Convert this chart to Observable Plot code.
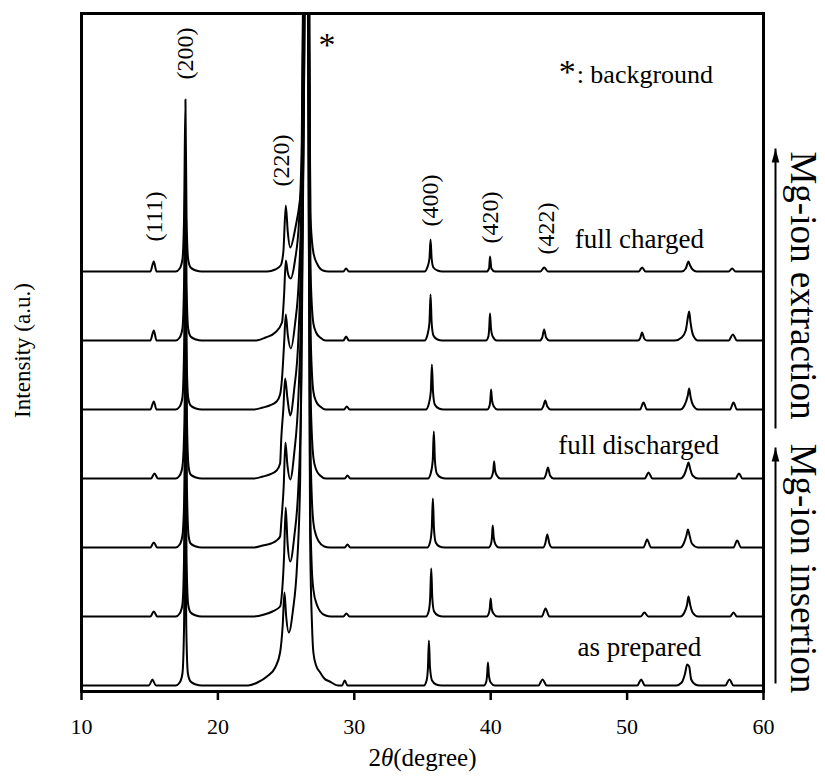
<!DOCTYPE html>
<html><head><meta charset="utf-8">
<script src="https://cdn.jsdelivr.net/npm/d3@7"></script>
<script src="https://cdn.jsdelivr.net/npm/@observablehq/plot@0.6"></script>
<style>
body{margin:0;background:#fff;}
#chart svg{display:block;}
</style></head><body><div id="chart"></div>
<script>
// ---- data: XRD patterns (2θ in degrees, intensity a.u. above each trace baseline) ----
const traceNames = ["as prepared", "insertion 1", "insertion 2", "full discharged", "extraction 1", "extraction 2", "full charged"];
const traceOffsets = [0, 69, 138, 207, 276, 345, 414];

const asPrepared = [[10,0],[14.95,0],[15.2,6],[15.45,0],
 [16.9,0],[17.2,3],[17.4,12],[17.52,60],[17.6,200],[17.68,60],[17.8,12],[18.0,4],[18.4,1],[18.8,0],
 [22.2,0],[22.9,3],[23.6,9],[24.2,18],[24.56,33],[24.75,60],[24.88,93],[25.0,70],[25.2,53],[25.5,75],[25.8,120],[26.03,206],[26.3,600],[26.47,3000],[26.62,600],[26.76,150],[26.9,60],[27.0,33],[27.2,20],[27.5,13],[27.8,7],[28.2,4],[28.8,0],
 [29.1,0],[29.3,5],[29.5,0],
 [35.1,0],[35.3,5],[35.4,18],[35.47,45],[35.55,18],[35.7,5],[36.0,1],[36.4,0],
 [39.5,0],[39.68,4],[39.74,11],[39.8,23],[39.87,10],[40.0,3],[40.3,0],
 [43.5,0],[43.8,6],[44.1,0],
 [50.75,0],[51.03,6],[51.3,0],
 [53.6,0],[54.0,3],[54.25,12],[54.4,21],[54.55,19],[54.7,6],[55.0,1],[55.3,0],
 [57.2,0],[57.5,6],[57.8,0],[60,0]];

const insertion1 = [[10,0],[15.05,0],[15.3,5],[15.55,0],
 [16.9,0],[17.2,3],[17.4,12],[17.52,60],[17.62,200],[17.7,60],[17.82,12],[18.0,4],[18.4,1],[18.8,0],
 [22.6,0],[23.4,2],[24.0,5],[24.56,10],[24.7,24],[24.85,60],[24.97,109],[25.1,75],[25.3,55],[25.6,80],[25.9,130],[26.1,215],[26.36,600],[26.5,3000],[26.6,600],[26.76,120],[26.88,50],[27.0,27],[27.25,12],[27.5,5],[27.9,1],[28.3,0],
 [29.2,0],[29.42,3],[29.65,0],
 [35.25,0],[35.45,5],[35.56,18],[35.64,48],[35.72,18],[35.85,5],[36.15,1],[36.5,0],
 [39.7,0],[39.88,4],[39.94,9],[40.0,18],[40.07,8],[40.2,3],[40.5,0],
 [43.75,0],[44.02,8],[44.3,0],
 [51.0,0],[51.27,4],[51.55,0],
 [53.9,0],[54.2,4],[54.4,12],[54.5,20],[54.62,12],[54.8,4],[55.2,0],
 [57.55,0],[57.8,4],[58.05,0],[60,0]];

const insertion2 = [[10,0],[15.05,0],[15.3,5],[15.55,0],
 [16.9,0],[17.2,3],[17.4,12],[17.55,60],[17.65,200],[17.73,60],[17.85,12],[18.0,4],[18.4,1],[18.8,0],
 [22.6,0],[23.3,2],[23.9,4],[24.3,7],[24.56,11],[24.66,28],[24.82,60],[24.95,105],[25.1,82],[25.3,68],[25.6,95],[25.9,150],[26.1,240],[26.38,600],[26.52,3000],[26.62,600],[26.78,110],[26.9,45],[27.0,25],[27.2,12],[27.4,6],[27.8,1],[28.2,0],
 [29.3,0],[29.5,3],[29.7,0],
 [35.35,0],[35.55,5],[35.68,19],[35.76,49],[35.84,19],[35.97,5],[36.25,1],[36.6,0],
 [39.85,0],[40.03,4],[40.09,10],[40.15,22],[40.22,10],[40.35,3],[40.6,0],
 [43.85,0],[44.0,4],[44.15,13],[44.3,4],[44.5,0],
 [51.2,0],[51.47,8],[51.75,0],
 [53.9,0],[54.15,4],[54.35,12],[54.46,18],[54.58,12],[54.75,4],[55.2,0],
 [57.8,0],[58.07,7],[58.35,0],[60,0]];

const fullDischarged = [[10,0],[15.1,0],[15.35,5],[15.6,0],
 [16.9,0],[17.2,3],[17.4,12],[17.55,60],[17.65,200],[17.73,60],[17.85,12],[18.0,4],[18.4,1],[18.8,0],
 [22.6,0],[23.3,2],[23.8,4],[24.3,8],[24.56,15],[24.65,41],[24.8,70],[24.93,100],[25.1,80],[25.3,63],[25.6,90],[25.9,140],[26.1,230],[26.38,600],[26.53,3000],[26.63,600],[26.78,100],[26.9,40],[27.0,21],[27.2,9],[27.5,3],[27.9,0],
 [29.3,0],[29.5,3],[29.7,0],
 [35.4,0],[35.6,5],[35.75,18],[35.83,47],[35.91,18],[36.05,5],[36.35,1],[36.7,0],
 [39.95,0],[40.13,4],[40.19,8],[40.25,17],[40.32,8],[40.45,3],[40.7,0],
 [43.9,0],[44.05,4],[44.2,11],[44.35,3],[44.6,0],
 [51.3,0],[51.57,6],[51.85,0],
 [53.9,0],[54.2,4],[54.4,12],[54.5,16],[54.62,10],[54.8,3],[55.2,0],
 [57.95,0],[58.2,5],[58.45,0],[60,0]];

const extraction1 = [[10,0],[15.05,0],[15.3,8],[15.5,0],
 [16.9,0],[17.2,3],[17.4,12],[17.52,60],[17.62,190],[17.7,60],[17.82,12],[18.0,4],[18.4,1],[18.8,0],
 [22.6,0],[23.3,2],[23.8,4],[24.3,8],[24.56,15],[24.7,31],[24.85,65],[24.98,95],[25.12,75],[25.35,61],[25.65,85],[25.95,135],[26.15,230],[26.36,600],[26.5,3000],[26.6,600],[26.78,90],[26.9,35],[27.0,18],[27.2,8],[27.5,3],[27.9,0],
 [29.25,0],[29.45,3],[29.65,0],
 [35.25,0],[35.45,5],[35.61,18],[35.69,45],[35.77,18],[35.9,5],[36.2,1],[36.55,0],
 [39.75,0],[39.92,4],[39.97,9],[40.03,20],[40.1,9],[40.23,3],[40.5,0],
 [43.7,0],[43.85,3],[44.0,9],[44.15,3],[44.4,0],
 [50.95,0],[51.2,7],[51.45,0],
 [53.9,0],[54.2,4],[54.45,14],[54.55,21],[54.66,12],[54.85,4],[55.2,0],
 [57.55,0],[57.8,7],[58.05,0],[60,0]];

const extraction2 = [[10,0],[15.05,0],[15.3,10],[15.5,0],
 [16.9,0],[17.2,3],[17.4,12],[17.52,58],[17.62,185],[17.7,58],[17.82,12],[18.0,4],[18.4,1],[18.8,0],
 [22.8,0],[23.5,3],[24.2,8],[24.7,18],[24.85,45],[24.98,80],[25.12,68],[25.33,62],[25.65,80],[25.95,120],[26.15,200],[26.4,600],[26.55,3000],[26.65,600],[26.78,80],[26.9,32],[27.0,17],[27.2,8],[27.5,3],[27.9,0],
 [29.2,0],[29.4,4],[29.6,0],
 [35.15,0],[35.35,5],[35.51,18],[35.59,46],[35.67,18],[35.8,5],[36.1,1],[36.45,0],
 [39.65,0],[39.83,4],[39.89,12],[39.95,27],[40.02,12],[40.15,4],[40.45,0],
 [43.6,0],[43.78,3],[43.92,11],[44.06,3],[44.3,0],
 [50.8,0],[50.95,2],[51.1,8],[51.25,2],[51.45,0],
 [53.5,0],[54.0,3],[54.3,10],[54.48,25],[54.55,29],[54.65,18],[54.85,5],[55.2,0],
 [57.45,0],[57.75,6],[58.05,0],[60,0]];

const fullCharged = [[10,0],[15.05,0],[15.3,10],[15.5,0],
 [16.9,0],[17.2,3],[17.4,12],[17.52,55],[17.62,172],[17.7,55],[17.82,12],[18.0,4],[18.4,1],[18.8,0],
 [23.6,0],[24.2,2],[24.6,6],[24.8,20],[24.98,66],[25.12,40],[25.3,24],[25.7,45],[26.0,70],[26.15,92],[26.36,400],[26.48,3000],[26.58,400],[26.78,60],[26.9,30],[27.0,19],[27.3,7],[27.7,1],[28.1,0],
 [29.2,0],[29.4,3],[29.6,0],
 [35.15,0],[35.35,4],[35.51,13],[35.59,32],[35.67,13],[35.8,4],[36.1,1],[36.45,0],
 [39.7,0],[39.88,3],[39.95,15],[40.05,3],[40.3,0],
 [43.65,0],[43.92,4],[44.2,0],
 [50.85,0],[51.1,4],[51.35,0],
 [54.0,0],[54.3,3],[54.5,10],[54.62,6],[54.8,2],[55.1,0],
 [57.45,0],[57.7,3],[57.95,0],[60,0]];

const traces = [asPrepared, insertion1, insertion2, fullDischarged, extraction1, extraction2, fullCharged];

const xTicks = [10, 20, 30, 40, 50, 60];

// annotations (x in 2θ, y in stacked intensity units)
const peakLabels = ["(111)", "(200)", "(220)", "(400)", "(420)", "(422)"];
const peakLabelX = [15.35, 17.62, 24.66, 35.6, 40.0, 44.1];
const peakLabelY = [469, 632, 525, 485, 468, 457];

const stateLabels = ["full charged", "full discharged", "as prepared"];
const stateLabelX = [50.9, 50.85, 50.9];
const stateLabelY = [446, 240, 38];

const processLabels = ["Mg-ion extraction", "Mg-ion insertion"];
const processLabelX = [62.9, 62.9];
const processLabelY = [400, 117];
const arrowX = [60.88, 60.88];
const arrowTail = [257, 2];
const arrowTip = [537, 238];

// ---- build table ----
const rows = traces.flatMap((pts, i) => pts.map(([x, y]) => ({trace: traceNames[i], x, y: y + traceOffsets[i]})));
const peakRows = peakLabels.map((t, i) => ({t, x: peakLabelX[i], y: peakLabelY[i]}));
const stateRows = stateLabels.map((t, i) => ({t, x: stateLabelX[i], y: stateLabelY[i]}));
const procRows = processLabels.map((t, i) => ({t, x: processLabelX[i], y: processLabelY[i]}));
const arrowRows = arrowX.map((x, i) => ({x, y1: arrowTail[i], y2: arrowTip[i]}));

const headSymbol = {draw(ctx) { ctx.moveTo(0, 0); ctx.lineTo(3.8, 14); ctx.lineTo(-3.8, 14); ctx.closePath(); }};
const serif = "'Liberation Serif', 'Times New Roman', serif";

const chart = Plot.plot({
  width: 825, height: 777,
  marginLeft: 81, marginRight: 62, marginTop: 13, marginBottom: 86,
  style: {fontFamily: serif, fontSize: "22px", color: "black", background: "white", overflow: "visible"},
  x: {domain: [10, 60]},
  y: {domain: [-6, 672], axis: null},
  marks: [
    Plot.line(rows, {x: "x", y: "y", z: "trace", curve: "monotone-x", stroke: "black", strokeWidth: 2, clip: true}),
    Plot.frame({stroke: "black", strokeWidth: 3}),
    Plot.axisX({ticks: xTicks, tickSize: 9, tickPadding: 18, strokeWidth: 2.5, fontSize: 22, label: null, tickFormat: d => String(d)}),
    Plot.text(["2θ (degree)"], {frameAnchor: "bottom", lineAnchor: "middle", textAnchor: "middle", dy: 66, fontSize: 25}),
    Plot.text(["Intensity (a.u.)"], {frameAnchor: "left", textAnchor: "middle", lineAnchor: "middle", dx: -59, dy: -2, rotate: -90, fontSize: 23}),
    Plot.text(peakRows, {x: "x", y: "y", text: "t", rotate: -90, fontSize: 24}),
    Plot.text(stateRows, {x: "x", y: "y", text: "t", fontSize: 27}),
    Plot.text(["*"], {x: 28.0, y: 640, fontSize: 34}),
    Plot.text(["*"], {x: 45.62, y: 613, fontSize: 34}),
    Plot.text([": background"], {x: 46.3, y: 611, textAnchor: "start", fontSize: 26}),
    Plot.text(procRows, {x: "x", y: "y", text: "t", rotate: 90, fontSize: 37}),
    Plot.link(arrowRows, {x1: "x", x2: "x", y1: "y1", y2: "y2", stroke: "black", strokeWidth: 2}),
    Plot.dot(arrowRows, {x: "x", y: "y2", symbol: headSymbol, r: 4, fill: "black", stroke: "none"})
  ]
});

chart.querySelectorAll("text").forEach(t => {
  if (t.textContent === "2θ (degree)") {
    t.innerHTML = '2<tspan font-style="italic">θ</tspan>(degree)';
  }
});
document.getElementById("chart").appendChild(chart);
</script>
</body></html>
